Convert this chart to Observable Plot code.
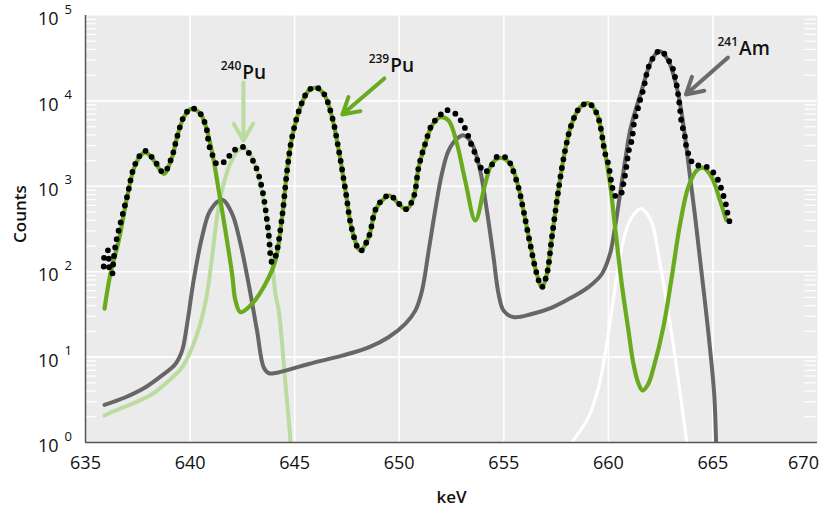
<!DOCTYPE html>
<html><head><meta charset="utf-8">
<script src="https://cdn.jsdelivr.net/npm/d3@7"></script>
<script src="https://cdn.jsdelivr.net/npm/@observablehq/plot@0.6"></script>
<style>
body{margin:0;background:#fff;}
</style></head>
<body><div id="chart"></div>
<script>
// ---- data (keV, counts) ----
const measured = [[635.87,115],[635.90,151],[636.08,178],[636.12,132],[636.17,98],[636.28,95],[636.33,126],[636.40,178],[636.48,234],
 [636.99,760],[637.31,1650],[637.63,2350],[637.87,2600],[638.27,2050],[638.74,1450],[639.14,2250],[639.38,3800],[639.70,6500],
 [640.06,8200],[640.49,7100],[640.81,4500],[640.89,3160],[641.05,2400],[641.29,1820],[641.72,2000],[642.00,2500],[642.52,2900],
 [643.12,1740],[643.46,890],[643.74,302],[643.92,129],[644.08,150],[644.40,440],[644.64,1540],[644.88,3800],[645.27,8500],
 [645.67,13300],[645.99,14500],[646.39,12200],[646.79,6500],[647.11,2650],[647.43,900],[647.75,305],[648.14,175],[648.54,255],
 [648.86,530],[649.18,690],[649.54,790],[649.97,630],[650.34,540],[650.69,750],[650.93,1680],[651.25,3200],[651.57,5300],
 [651.96,6800],[652.20,7800],[652.68,7100],[653.00,5600],[653.24,4270],[653.40,3300],[653.60,2510],[653.80,1860],[654.08,1460],
 [654.40,1740],[654.70,2240],[655.15,2140],[655.31,1850],[655.70,975],[655.94,523],[656.26,212],[656.58,94],[656.82,66],
 [657.06,94],[657.30,253],[657.61,893],[657.93,2620],[658.25,5400],[658.65,8440],[659.05,9400],[659.45,7100],[659.85,2400],
 [660.00,1820],[660.16,1070],[660.32,776],[660.56,776],[660.72,1070],[660.88,1820],[660.96,2510],[661.12,3470],[661.25,5900],
 [661.40,7900],[661.53,10500],[661.68,13800],[661.91,24500],[662.16,32400],[662.47,38900],[663.03,25700],[663.22,17400],
 [663.38,10000],[663.51,5400],[663.64,4100],[663.72,3000],[663.86,2290],[664.10,1800],[664.63,1720],[665.02,1450],[665.29,1120],
 [665.45,850],[665.61,630],[665.70,480],[665.82,363]];

const pu239 = [[635.91,37],[636.19,94],[636.59,232],[636.99,746],[637.31,1600],[637.63,2290],[637.87,2500],[638.27,2000],
 [638.74,1400],[639.14,2190],[639.38,3760],[639.70,6440],[640.06,8070],[640.49,7080],[640.81,4500],[641.13,2000],[641.37,893],
 [641.69,303],[642.01,94],[642.17,46],[642.41,33.6],[642.96,42],[643.60,72],[644.08,135],[644.40,436],[644.64,1530],[644.88,3760],
 [645.27,8440],[645.67,13200],[645.99,14200],[646.39,12100],[646.79,6440],[647.11,2620],[647.43,893],[647.75,303],[648.14,177],
 [648.54,253],[648.86,523],[649.18,680],[649.54,780],[649.97,624],[650.34,535],[650.69,746],[650.93,1670],[651.25,3150],
 [651.57,5150],[651.96,6440],[652.36,5900],[652.76,3150],[653.16,1150],[653.64,398],[654.11,1070],[654.43,1830],[654.83,2150],
 [655.31,1830],[655.70,975],[655.94,523],[656.26,212],[656.58,94],[656.82,66],[657.06,94],[657.30,253],[657.61,893],[657.93,2620],
 [658.25,5400],[658.65,8440],[659.05,9400],[659.45,7080],[659.77,3150],[660.08,1070],[660.32,333],[660.64,72],[660.96,20.5],
 [661.20,8.3],[661.44,4.9],[661.64,4.06],[661.90,4.8],[662.16,7.5],[662.63,22.4],[663.03,86],[663.43,363],[663.82,975],
 [664.22,1530],[664.54,1650],[664.94,1280],[665.34,680],[665.63,406]];

const pu240 = [[635.91,2.07],[636.43,2.37],[637.23,2.84],[638.19,3.7],[638.98,5.3],[639.62,7.6],[640.10,13],[640.49,24.5],
 [640.81,55],[641.05,148],[641.29,436],[641.53,893],[641.85,1670],[642.17,2400],[642.52,2820],[642.96,2190],[643.28,1280],
 [643.60,523],[643.84,212],[644.08,55],[644.24,35],[644.40,14.3],[644.56,4.9],[644.72,1.81],[644.80,1.0]];

const am241 = [[635.91,2.76],[636.91,3.39],[637.87,4.44],[638.66,6.1],[639.30,8.3],[639.62,11.9],[639.86,24.5],[640.17,79],
 [640.57,253],[640.97,523],[641.53,694],[642.01,476],[642.41,212],[642.80,72],[643.20,20.5],[643.52,7.6],[643.76,6.5],[644.08,6.5],
 [645.67,8.3],[647.27,10.4],[648.54,13],[649.49,17.1],[650.29,24.5],[650.77,35],[651.09,60],[651.41,177],[651.72,523],
 [652.04,1400],[652.36,2620],[652.76,3600],[653.08,3950],[653.48,3150],[653.87,1530],[654.19,523],[654.51,148],[654.75,55],
 [654.99,35],[655.46,29.4],[656.34,32],[657.30,38],[658.25,50],[659.05,66],[659.69,94],[660.08,162],[660.32,333],[660.56,815],
 [660.80,2000],[661.04,4500],[661.28,7500],[661.60,13500],[661.91,24000],[662.16,33000],[662.47,38200],[662.87,29600],
 [663.19,17300],[663.43,9250],[663.67,3760],[663.91,1280],[664.15,436],[664.39,135],[664.63,42],[664.87,12],[665.06,3.7],[665.15,1.0]];

const other = [[658.25,1.0],[659.05,1.98],[659.53,4.4],[659.85,11],[660.16,35],[660.48,113],[660.80,277],[661.12,436],
 [661.56,548],[662.03,400],[662.47,124],[662.95,24.5],[663.35,5.3],[663.75,1.0]];

const xTicks = [635,640,645,650,655,660,665];
const xTickLast = [670];
const decades = [0,1,2,3,4,5];
const minorTicks = decades.slice(0,5).flatMap(d => [2,3,4,5,6,7,8,9].map(m => m * 10 ** d));

const labels = [
  {iso:"240", el:"Pu", x:642.50, y:21500},
  {iso:"239", el:"Pu", x:649.57, y:26000},
  {iso:"241", el:"Am", x:666.25, y:41100}
];
const arrows = [
  {x1:642.55, y1:16400, x2:642.55, y2:3440, color:"#bcdba0"},
  {x1:649.29, y1:18300, x2:647.28, y2:6920, color:"#6aaa1e"},
  {x1:665.72, y1:32200, x2:663.71, y2:11900, color:"#6b6b6b"}
];

const pt = d => ({x: d[0], y: d[1]});
const line = (data, stroke, w) => Plot.line(data.map(pt), {x:"x", y:"y", stroke, strokeWidth:w, curve:"catmull-rom", clip:true, strokeLinecap:"round"});

const chart = Plot.plot({
  width: 830, height: 512,
  marginLeft: 85, marginRight: 13, marginTop: 15, marginBottom: 70,
  x: {domain:[635,670], axis:null},
  y: {type:"log", domain:[1,1e5], axis:null},
  style: {fontFamily:"'Open Sans', 'DejaVu Sans', sans-serif", color:"#111"},
  marks: [
    Plot.frame({fill:"#ebebeb", stroke:null}),
    Plot.gridX([640,645,650,655,660,665], {stroke:"#fff", strokeOpacity:1, strokeWidth:1.6}),
    Plot.gridY(decades.slice(1,5).map(d => 10 ** d), {stroke:"#fff", strokeOpacity:1, strokeWidth:1.6}),
    Plot.ruleY(minorTicks, {x1:635.03, x2:635.55, stroke:"#fff", strokeWidth:1.3}),
    Plot.ruleY(minorTicks, {x1:669.4, x2:669.93, stroke:"#fff", strokeWidth:1.3}),
    line(other, "#ffffff", 3.2),
    line(pu240, "#bcdba0", 4),
    line(am241, "#666666", 4),
    line(pu239, "#6aaa1e", 4.2),
    Plot.line(measured.map(pt), {x:"x", y:"y", stroke:"#000", strokeWidth:5.8, strokeDasharray:"0,8.6", strokeLinecap:"round", curve:"catmull-rom", clip:true}),
    Plot.ruleX([635], {stroke:"#555", strokeWidth:1.5}),
    Plot.ruleY([1], {stroke:"#555", strokeWidth:1.5}),
    Plot.arrow(arrows, {x1:"x1", y1:"y1", x2:"x2", y2:"y2", stroke:"color", strokeWidth:4, headLength:13}),
    Plot.text(labels, {x:"x", y:"y", text:"el", textAnchor:"start", fontSize:19, fontWeight:600, fill:"#111"}),
    Plot.text(labels, {x:"x", y:"y", text:"iso", textAnchor:"end", dx:-1, dy:-6, fontSize:12, fontWeight:600, fill:"#111"}),
    Plot.axisX(xTicks, {tickSize:0, tickPadding:14, fontSize:18, fontWeight:500, label:null}),
    Plot.axisX(xTickLast, {tickSize:0, tickPadding:14, fontSize:18, fontWeight:500, label:null, dx:-14}),
    Plot.text(decades, {y: d => 10 ** d, text: () => "10", frameAnchor:"left", textAnchor:"end", dx:-27, dy:4, fontSize:18, fill:"#111"}),
    Plot.text(decades, {y: d => 10 ** d, text: d => String(d), frameAnchor:"left", textAnchor:"start", dx:-21, dy:-6, fontSize:13, fill:"#111"}),
    Plot.text(["Counts"], {frameAnchor:"left", dx:-65, dy:14, rotate:-90, fontSize:17, fontWeight:600, fill:"#111"}),
    Plot.text(["keV"], {frameAnchor:"bottom", dy:60, fontSize:17, fontWeight:600, fill:"#111"})
  ]
});
document.getElementById("chart").appendChild(chart);
</script></body></html>
